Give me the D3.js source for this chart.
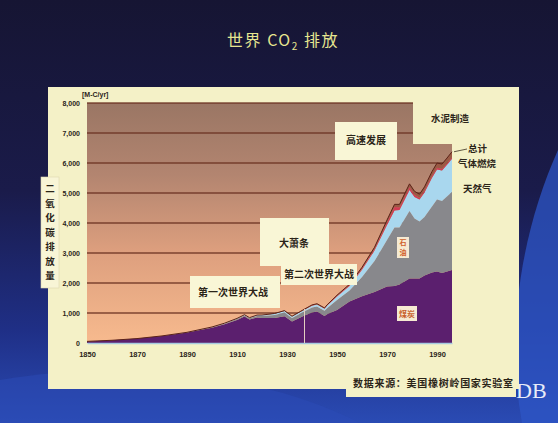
<!DOCTYPE html>
<html>
<head>
<meta charset="utf-8">
<script src="https://cdn.jsdelivr.net/npm/d3@7"></script>
<style>
  html, body { margin: 0; padding: 0; background: #17173a; }
  svg { display: block; }
</style>
</head>
<body>
<svg id="chart" width="558" height="423"></svg>
<script>
// World fossil-fuel CO2 emissions by source, million tonnes of carbon per year
const years   = [1850,1860,1870,1880,1890,1900,1905,1910,1913,1915,1918,1920,1925,1929,1932,1937,1940,1942,1945,1946,1950,1955,1960,1965,1970,1973,1975,1979,1981,1983,1985,1988,1990,1992,1994,1996];
const coal    = [54,91,146,233,347,510,625,770,880,780,850,830,830,890,720,920,1020,1050,900,960,1100,1380,1560,1700,1880,1900,1950,2150,2150,2150,2250,2350,2380,2330,2380,2430];
const oil     = [0,0,1,3,6,14,20,28,38,42,52,72,105,125,115,135,165,170,175,200,330,370,640,1030,1550,1950,1900,2250,2000,1900,1950,2200,2400,2400,2500,2600];
const gas     = [0,0,0,0,3,10,15,21,25,23,28,30,40,50,45,55,60,65,70,80,120,150,240,350,500,570,580,700,720,730,820,960,1000,1020,1060,1110];
const flaring = [0,0,0,0,0,0,0,0,0,0,0,0,0,5,5,8,10,10,12,15,25,30,40,55,90,110,95,90,70,60,60,65,60,55,55,55];
const cement  = [0,0,0,0,0,0,0,0,0,0,0,0,8,10,8,12,14,14,12,14,18,28,43,55,78,92,95,115,117,118,125,140,157,160,170,180];

const seriesKeys   = ["coal", "oil", "gas", "flaring", "cement"];
const seriesColors = ["#5b1f6e", "#88888c", "#a9d7ee", "#d23c55", "#9a5a44"];
const xTickValues  = [1850, 1870, 1890, 1910, 1930, 1950, 1970, 1990];
const yTickValues  = [0, 1000, 2000, 3000, 4000, 5000, 6000, 7000, 8000];
const markerYear   = 1937;

const rows = years.map((yr, i) => ({
  year: yr, coal: coal[i], oil: oil[i], gas: gas[i], flaring: flaring[i], cement: cement[i]
}));

const svg = d3.select("#chart");
const defs = svg.append("defs");
const cjk = "'Noto Sans CJK SC', 'Noto Sans', sans-serif";
const latin = "'Liberation Sans', Arial, sans-serif";

// slide background
const bg = defs.append("linearGradient").attr("id", "bgGrad")
  .attr("x1", 0).attr("y1", 0).attr("x2", 0).attr("y2", 1);
[[0, "#161533"], [0.45, "#1a1b4a"], [0.78, "#1f2f86"], [1, "#2a4bb4"]]
  .forEach(([o, c]) => bg.append("stop").attr("offset", o).attr("stop-color", c));
svg.append("rect").attr("width", 558).attr("height", 423).attr("fill", "url(#bgGrad)");
svg.append("path")
  .attr("d", "M558,150 C522,230 505,330 522,423 L558,423 Z")
  .attr("fill", "#2d55c6").attr("opacity", 0.75);
svg.append("path")
  .attr("d", "M0,380 C120,360 260,372 360,423 L0,423 Z")
  .attr("fill", "#2c4cb8").attr("opacity", 0.5);

// title
const title = svg.append("text")
  .attr("x", 283).attr("y", 46)
  .attr("text-anchor", "middle")
  .attr("fill", "#e6e690")
  .attr("font-family", cjk)
  .attr("font-size", 16)
  .attr("letter-spacing", 1.5);
title.append("tspan").text("世界 CO");
title.append("tspan").attr("font-size", 10).attr("dy", 4).text("2");
title.append("tspan").attr("dy", -4).text(" 排放");

// "DB" logo text
svg.append("text")
  .attr("x", 516).attr("y", 398)
  .attr("fill", "#e8ecf8")
  .attr("font-family", "'Liberation Serif', 'DejaVu Serif', serif")
  .attr("font-size", 22)
  .text("DB");

// chart panel
const panelFill = "#f4f1c7";
svg.append("rect").attr("x", 48).attr("y", 87).attr("width", 471).attr("height", 302)
  .attr("fill", panelFill);
svg.append("rect").attr("x", 346).attr("y", 370).attr("width", 170).attr("height", 27)
  .attr("fill", panelFill);

// scales
const x = d3.scaleLinear().domain([1850, 1996]).range([87, 452]);
const y = d3.scaleLinear().domain([0, 8000]).range([343, 103]);

// plot background
const pg = defs.append("linearGradient").attr("id", "plotGrad")
  .attr("x1", 0).attr("y1", 0).attr("x2", 0).attr("y2", 1);
[[0, "#9a7664"], [0.3, "#b38570"], [0.62, "#dd9f7e"], [1, "#f7ba8e"]]
  .forEach(([o, c]) => pg.append("stop").attr("offset", o).attr("stop-color", c));
svg.append("rect")
  .attr("x", x.range()[0]).attr("y", y.range()[1])
  .attr("width", x.range()[1] - x.range()[0])
  .attr("height", y.range()[0] - y.range()[1])
  .attr("fill", "url(#plotGrad)");

// horizontal gridlines
svg.append("g").selectAll("line")
  .data(yTickValues.slice(1))
  .join("line")
  .attr("x1", x.range()[0]).attr("x2", x.range()[1])
  .attr("y1", d => y(d)).attr("y2", d => y(d))
  .attr("stroke", "#6b3222").attr("stroke-width", 1.4).attr("opacity", 0.85);

// stacked areas
const stacked = d3.stack().keys(seriesKeys)(rows);
const area = d3.area()
  .x(d => x(d.data.year))
  .y0(d => y(d[0]))
  .y1(d => y(d[1]));
svg.append("g").selectAll("path")
  .data(stacked)
  .join("path")
  .attr("d", area)
  .attr("fill", (d, i) => seriesColors[i]);

// outline on the total
const totalLine = d3.line()
  .x(d => x(d.data.year))
  .y(d => y(d[1]));
svg.append("path")
  .datum(stacked[stacked.length - 1])
  .attr("d", totalLine)
  .attr("fill", "none")
  .attr("stroke", "#5a2218").attr("stroke-width", 1);

// x axis
const xAxis = svg.append("g")
  .attr("transform", `translate(0,${y(0)})`)
  .call(d3.axisBottom(x).tickValues(xTickValues).tickFormat(d3.format("d")).tickSize(0).tickPadding(9));
xAxis.select(".domain").attr("stroke", "#a6cbe0").attr("stroke-width", 1.5);
xAxis.selectAll("text")
  .attr("font-family", latin).attr("font-weight", "bold")
  .attr("font-size", 7.5).attr("fill", "#2a2418");

// y axis labels
const yAxis = svg.append("g")
  .attr("transform", `translate(${x.range()[0]},0)`)
  .call(d3.axisLeft(y).tickValues(yTickValues).tickFormat(d3.format(",")).tickSize(0).tickPadding(7));
yAxis.select(".domain").remove();
yAxis.selectAll("text")
  .attr("font-family", latin).attr("font-weight", "bold")
  .attr("font-size", 7).attr("fill", "#2a2418");

// unit
svg.append("text")
  .attr("x", 82).attr("y", 97)
  .attr("font-family", latin).attr("font-weight", "bold")
  .attr("font-size", 7).attr("fill", "#2a2418")
  .text("[M-C/yr]");

// marker line at the end of the 1930s
const markerRow = stacked[stacked.length - 1].find(d => d.data.year === markerYear);
svg.append("line")
  .attr("x1", x(markerYear)).attr("x2", x(markerYear))
  .attr("y1", y(markerRow[1])).attr("y2", y(0))
  .attr("stroke", "#e4cfc0").attr("stroke-width", 1);

// label area over the top-right corner of the plot
svg.append("rect").attr("x", 413).attr("y", 100).attr("width", 106).attr("height", 44)
  .attr("fill", panelFill);

// y-axis title box
svg.append("rect").attr("x", 41).attr("y", 177).attr("width", 18).attr("height", 111)
  .attr("fill", "#f8f5d6").attr("stroke", "#ddd8b0").attr("stroke-width", 0.6);
svg.append("g").selectAll("text")
  .data(Array.from("二氧化碳排放量"))
  .join("text")
  .attr("x", 50).attr("y", (d, i) => 192 + i * 14.5)
  .attr("text-anchor", "middle")
  .attr("font-family", cjk).attr("font-weight", "bold")
  .attr("font-size", 9.5).attr("fill", "#2b2418")
  .text(d => d);

// annotation boxes
const noteFill = "#f9f6d6";
const notes = [
  { text: "大萧条",         x: 260, y: 218, w: 69, h: 48, tx: 294, ty: 247 },
  { text: "第二次世界大战", x: 281, y: 264, w: 76, h: 21, tx: 319, ty: 278 },
  { text: "第一次世界大战", x: 190, y: 276, w: 90, h: 32, tx: 233, ty: 296 },
  { text: "高速发展",       x: 335, y: 122, w: 62, h: 38, tx: 366, ty: 144 }
];
const noteG = svg.append("g");
noteG.selectAll("rect").data(notes).join("rect")
  .attr("x", d => d.x).attr("y", d => d.y).attr("width", d => d.w).attr("height", d => d.h)
  .attr("fill", noteFill);
noteG.selectAll("text").data(notes).join("text")
  .attr("x", d => d.tx).attr("y", d => d.ty)
  .attr("text-anchor", "middle")
  .attr("font-family", cjk).attr("font-weight", "bold")
  .attr("font-size", 10).attr("fill", "#2b2418")
  .text(d => d.text);

// series labels to the right of the plot
const lastTotal = stacked[stacked.length - 1][rows.length - 1][1];
svg.append("line")
  .attr("x1", x(1996) + 2).attr("y1", y(lastTotal))
  .attr("x2", 467).attr("y2", 149)
  .attr("stroke", "#3a3020").attr("stroke-width", 0.8);
const sideLabels = [
  { text: "水泥制造", x: 431, y: 122 },
  { text: "总计",     x: 468, y: 152 },
  { text: "气体燃烧", x: 458, y: 167 },
  { text: "天然气",   x: 463, y: 192 }
];
svg.append("g").selectAll("text").data(sideLabels).join("text")
  .attr("x", d => d.x).attr("y", d => d.y)
  .attr("font-family", cjk).attr("font-weight", "bold")
  .attr("font-size", 9.5).attr("fill", "#2b2418")
  .text(d => d.text);

// in-chart labels for oil and coal
svg.append("rect").attr("x", 397).attr("y", 237).attr("width", 12).attr("height", 21)
  .attr("fill", "#f6ead2");
svg.append("g").selectAll("text").data(Array.from("石油")).join("text")
  .attr("x", 403).attr("y", (d, i) => 245 + i * 9.5)
  .attr("text-anchor", "middle")
  .attr("font-family", cjk).attr("font-weight", "bold")
  .attr("font-size", 7).attr("fill", "#d0602a")
  .text(d => d);
svg.append("rect").attr("x", 397).attr("y", 306).attr("width", 20).attr("height", 15)
  .attr("fill", "#f6ead2");
svg.append("text")
  .attr("x", 407).attr("y", 317)
  .attr("text-anchor", "middle")
  .attr("font-family", cjk).attr("font-weight", "bold")
  .attr("font-size", 8).attr("fill", "#c8602a")
  .text("煤炭");

// source note
svg.append("text")
  .attr("x", 353).attr("y", 387)
  .attr("font-family", cjk).attr("font-weight", "bold")
  .attr("font-size", 10).attr("fill", "#2b2418")
  .attr("textLength", 160)
  .text("数据来源：美国橡树岭国家实验室");
</script>
</body>
</html>
